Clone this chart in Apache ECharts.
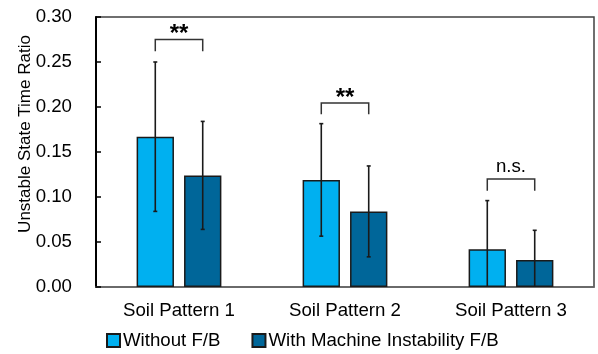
<!DOCTYPE html>
<html>
<head>
<meta charset="utf-8">
<script src="https://cdn.jsdelivr.net/npm/echarts@6/dist/echarts.min.js"></script>
<style>
html,body{margin:0;padding:0;background:#fff;}
#chart{width:598px;height:354px;}
</style>
</head>
<body>
<div id="chart"></div>
<script>
const categories = ['Soil Pattern 1', 'Soil Pattern 2', 'Soil Pattern 3'];
const seriesNames = ['Without F/B', 'With Machine Instability F/B'];
const withoutFB = [0.167, 0.119, 0.042];
const withoutFBSD = [0.083, 0.0625, 0.054];
const withFB = [0.124, 0.084, 0.030];
const withFBSD = [0.060, 0.0505, 0.033];
const sigLabels = ['**', '**', 'n.s.'];
const bracketTop = [0.275, 0.2045, 0.12];
const bracketLeg = [0.262, 0.192, 0.107];
const yTicks = [0, 0.05, 0.10, 0.15, 0.20, 0.25, 0.30];

const FONT = 'Liberation Sans, Arial, sans-serif';
const BAR_W = 0.225;   // fraction of band
const BAR_GAP = 0.27;  // fraction of bar width
const colors = ['#00B0F0', '#006699'];

function barOffset(band, side) {
  const w = BAR_W * band;
  return (side === 0 ? -1 : 1) * (w + BAR_GAP * w) / 2;
}

const errData = [];
for (let i = 0; i < categories.length; i++) {
  errData.push([i, withoutFB[i], withoutFBSD[i], 0]);
  errData.push([i, withFB[i], withFBSD[i], 1]);
}
const sigData = categories.map((c, i) => [i, bracketTop[i], bracketLeg[i], sigLabels[i]]);

const chart = echarts.init(document.getElementById('chart'), null, {renderer: 'canvas'});
chart.setOption({
  animation: false,
  backgroundColor: '#fff',
  textStyle: {fontFamily: FONT},
  grid: {left: 96, right: 4, top: 17, bottom: 67, show: true, borderColor: '#404040', borderWidth: 1.5, backgroundColor: 'transparent'},
  legend: {
    left: 101, top: 326, itemWidth: 13, itemHeight: 13, itemGap: 31,
    icon: 'rect',
    textStyle: {fontSize: 18.67, color: '#000', fontFamily: FONT, padding: [0, 0, 0, -2]},
    data: seriesNames
  },
  xAxis: {
    type: 'category', data: categories,
    axisLine: {lineStyle: {color: '#6a6a6a', width: 1.5}},
    axisTick: {show: false},
    axisLabel: {fontSize: 18.67, color: '#000', margin: 14, fontFamily: FONT}
  },
  yAxis: {
    type: 'value', min: 0, max: 0.3, interval: 0.05,
    axisLine: {show: true, lineStyle: {color: '#000', width: 2}},
    axisTick: {show: true, inside: true, length: 5, lineStyle: {color: '#000', width: 1.5}},
    splitLine: {show: false},
    axisLabel: {fontSize: 18.67, color: '#000', margin: 24, fontFamily: FONT, formatter: v => v.toFixed(2)}
  },
  graphic: [{
    type: 'text', x: 25, y: 134, rotation: Math.PI / 2,
    style: {text: 'Unstable State Time Ratio', fontSize: 17, fontFamily: FONT, fill: '#000', align: 'center', verticalAlign: 'middle'}
  }],
  series: [
    {name: seriesNames[0], type: 'bar', data: withoutFB, barWidth: (BAR_W * 100) + '%', barGap: (BAR_GAP * 100) + '%',
     itemStyle: {color: colors[0], borderColor: '#1a1a1a', borderWidth: 1.5}, z: 2},
    {name: seriesNames[1], type: 'bar', data: withFB, barWidth: (BAR_W * 100) + '%', barGap: (BAR_GAP * 100) + '%',
     itemStyle: {color: colors[1], borderColor: '#1a1a1a', borderWidth: 1.5}, z: 2},
    {
      type: 'custom', name: 'err', data: errData, z: 5, silent: true,
      encode: {x: 0, y: 1},
      renderItem: function (params, api) {
        const i = api.value(0), m = api.value(1), sd = api.value(2), side = api.value(3);
        const band = api.size([1, 0])[0];
        const off = barOffset(band, side);
        const top = api.coord([i, m + sd]);
        const bot = api.coord([i, Math.max(0, m - sd)]);
        const x = top[0] + off;
        const cap = 2;
        const st = {stroke: '#1a1a1a', lineWidth: 1.6};
        const children = [
          {type: 'line', shape: {x1: x, y1: top[1], x2: x, y2: bot[1]}, style: st},
          {type: 'line', shape: {x1: x - cap, y1: top[1], x2: x + cap, y2: top[1]}, style: st}
        ];
        if (m - sd > 0) children.push({type: 'line', shape: {x1: x - cap, y1: bot[1], x2: x + cap, y2: bot[1]}, style: st});
        return {type: 'group', children: children};
      }
    },
    {
      type: 'custom', name: 'sig', data: sigData, z: 6, silent: true,
      encode: {x: 0, y: 1},
      renderItem: function (params, api) {
        const i = api.value(0), yt = api.value(1), yl = api.value(2);
        const label = sigLabels[params.dataIndex];
        const band = api.size([1, 0])[0];
        const c = api.coord([i, yt]);
        const leg = api.coord([i, yl]);
        const xl = c[0] + barOffset(band, 0), xr = c[0] + barOffset(band, 1);
        const star = label === '**';
        return {type: 'group', children: [
          {type: 'polyline', shape: {points: [[xl, leg[1]], [xl, c[1]], [xr, c[1]], [xr, leg[1]]]},
           style: {stroke: '#333', lineWidth: 1.5, fill: null}},
          {type: 'text', style: {text: label, x: c[0], y: c[1] + (star ? -5 : -12.2), align: 'center', verticalAlign: 'middle',
            fontSize: star ? 24 : 18.67, fontWeight: star ? 'bold' : 'normal', fontFamily: FONT, fill: '#000'}}
        ]};
      }
    }
  ]
});
</script>
</body>
</html>
